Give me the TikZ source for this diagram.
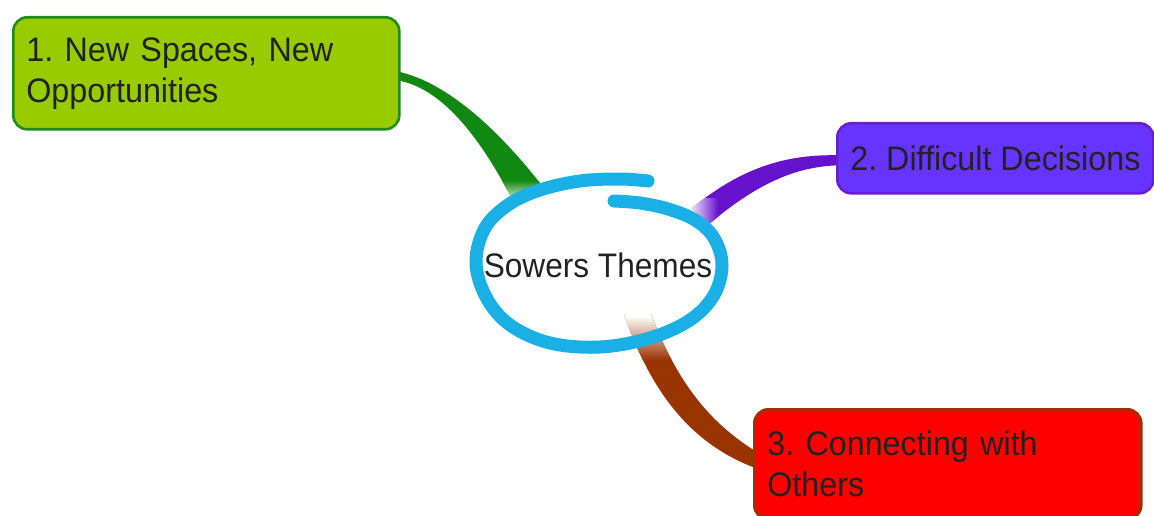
\documentclass[tikz,border=0pt]{standalone}
\usepackage{fontspec}
\usetikzlibrary{calc,backgrounds}
\newfontfamily\topicfont[FakeStretch=0.95]{Liberation Sans}
\newfontfamily\hubfont[FakeStretch=0.93]{Liberation Sans}
\frenchspacing

\definecolor{txt}{HTML}{222222}
\definecolor{ringblue}{HTML}{1AB0E6}
\definecolor{oneFill}{HTML}{99CC00}
\definecolor{oneLine}{HTML}{238A1E}
\definecolor{oneBranch}{HTML}{118811}
\definecolor{twoFill}{HTML}{6633FF}
\definecolor{twoLine}{HTML}{6A1ED0}
\definecolor{twoBranch}{HTML}{6611CC}
\definecolor{threeFill}{HTML}{FF0000}
\definecolor{threeLine}{HTML}{993300}
\definecolor{threeBranch}{HTML}{993300}

\tikzset{
  topic/.style={draw, line width=2.6pt, rounded corners=14pt, anchor=north west,
    inner xsep=13pt, inner ysep=0pt, align=left, text=txt,
    font=\topicfont\fontsize{34pt}{41pt}\selectfont},
  hub/.style={inner sep=0pt, text=txt, font=\hubfont\fontsize{34pt}{41pt}\selectfont},
  ring/.style={draw=ringblue, line width=13pt, line cap=round, line join=round},
}

\begin{document}
\begin{tikzpicture}[x=1pt,y=-1pt]
\useasboundingbox (0,0) rectangle (1154,516);

% central topic text
\node[hub] (hub) at (598,265) {Sowers Themes};

% the three topic boxes
\node[topic, fill=oneFill, draw=oneLine, text width=360pt, minimum height=112pt]
  (t1) at (12,16) {1. New Spaces, New\\Opportunities};
\node[topic, fill=twoFill, draw=twoLine, minimum width=316pt, minimum height=70pt]
  (t2) at (836,122) {2. Difficult Decisions};
\node[topic, fill=threeFill, draw=threeLine, text width=361pt, minimum height=110pt]
  (t3) at (753,408) {3. Connecting with\\Others};

\begin{pgfonlayer}{background}
  % branch to topic 1
  \begin{scope}
    \clip ($(t1.east)+(-4,-2)$) .. controls (440,80) and (492,120) .. (547,192)
      -- (513,201) .. controls (474,125) and (435,86) .. ($(t1.east)+(-4,7)$) -- cycle;
    \fill[oneBranch] (380,60) rectangle (560,210);
    \shade[top color=oneBranch, bottom color=white] (490,180) rectangle (560,204);
  \end{scope}
  % branch to topic 2
  \begin{scope}
    \clip ($(t2.west)+(4,-3)$) .. controls (790,154) and (745,165) .. (692,208)
      -- (708,225) .. controls (755,185) and (795,166) .. ($(t2.west)+(4,7)$) -- cycle;
    \fill[twoBranch] (680,145) rectangle (850,232);
    \shade[left color=white, right color=twoBranch] (688,198) rectangle (718,230);
  \end{scope}
  % branch to topic 3
  \begin{scope}
    \clip (624,314) .. controls (650,390) and (690,445) .. ($(t3.west)+(6,5)$)
      -- ($(t3.west)+(6,-11)$) .. controls (712,425) and (678,385) .. (651,314) -- cycle;
    \fill[threeBranch] (610,300) rectangle (770,480);
    \fill[white] (610,300) rectangle (680,316);
    \shade[top color=white, middle color=threeBranch!20!white, bottom color=threeBranch]
      (612,316) rectangle (675,360);
  \end{scope}
  % hand-drawn ring round the central topic
  \draw[ring] plot[smooth, tension=0.6] coordinates {
    (614,201) (640,203) (668,209) (695,220) (714,238) (722,265) (714,295)
    (690,320) (650,338) (600,347) (550,343) (510,325) (486,297) (476,262)
    (485,228) (508,205) (540,190) (580,181) (620,179) (648,181)};
\end{pgfonlayer}
\end{tikzpicture}
\end{document}
